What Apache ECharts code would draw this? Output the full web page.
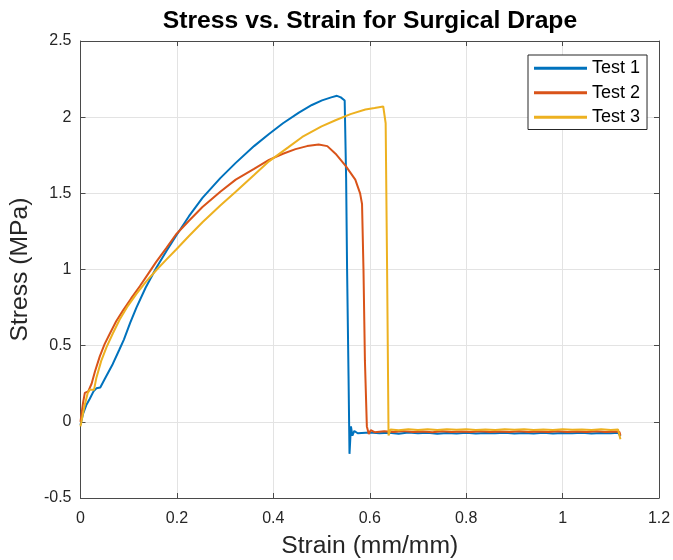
<!DOCTYPE html>
<html>
<head>
<meta charset="utf-8">
<script src="https://cdn.jsdelivr.net/npm/echarts@6/dist/echarts.min.js"></script>
<style>
html,body{margin:0;padding:0;background:#fff;}
#chart{width:673px;height:560px;}
</style>
</head>
<body>
<div id="chart"></div>
<script>
var titleText = 'Stress vs. Strain for Surgical Drape';
var xLabel = 'Strain (mm/mm)';
var yLabel = 'Stress (MPa)';
var seriesNames = ['Test 1', 'Test 2', 'Test 3'];
var seriesColors = ['#0072BD', '#D95319', '#EDB120'];

var test1 = [
  [0,-0.02],[0.005,0.05],[0.012,0.11],[0.019,0.15],[0.027,0.2],[0.033,0.22],[0.041,0.225],
  [0.05,0.28],[0.067,0.38],[0.08,0.47],[0.09,0.54],[0.103,0.65],[0.116,0.75],[0.135,0.88],[0.157,1.01],[0.178,1.12],
  [0.198,1.22],[0.225,1.35],[0.253,1.47],[0.29,1.6],[0.322,1.70],[0.36,1.81],[0.391,1.89],
  [0.42,1.96],[0.453,2.03],[0.48,2.08],[0.501,2.11],[0.52,2.13],[0.532,2.14],[0.540,2.13],
  [0.548,2.11],[0.551,1.6],[0.553,1.0],[0.556,0.3],[0.558,-0.21],[0.561,-0.03],[0.564,-0.09],
  [0.568,-0.06],[0.575,-0.075],[0.6,-0.07],[0.62,-0.075],[0.64,-0.072],[0.66,-0.078],[0.68,-0.07],
  [0.7,-0.075],[0.72,-0.072],[0.74,-0.078],[0.76,-0.073],[0.78,-0.076],[0.8,-0.071],[0.82,-0.077],
  [0.84,-0.073],[0.86,-0.075],[0.88,-0.071],[0.9,-0.077],[0.92,-0.073],[0.94,-0.076],[0.96,-0.072],
  [0.98,-0.077],[1.0,-0.073],[1.02,-0.075],[1.04,-0.071],[1.06,-0.077],[1.08,-0.073],[1.1,-0.075],
  [1.115,-0.072],[1.12,-0.095]
];
var test2 = [
  [0,0],[0.005,0.12],[0.009,0.19],[0.016,0.2],[0.023,0.25],[0.03,0.33],[0.04,0.43],[0.05,0.51],[0.061,0.58],[0.074,0.66],[0.088,0.73],
  [0.105,0.81],[0.123,0.89],[0.14,0.97],[0.157,1.05],[0.178,1.14],[0.198,1.23],[0.225,1.32],[0.253,1.41],[0.29,1.51],[0.322,1.59],
  [0.36,1.66],[0.391,1.72],[0.42,1.76],[0.446,1.79],[0.47,1.81],[0.494,1.82],[0.512,1.81],
  [0.529,1.76],[0.55,1.68],[0.57,1.59],[0.58,1.5],[0.584,1.43],[0.587,1.0],[0.59,0.4],
  [0.594,-0.03],[0.598,-0.08],[0.602,-0.055],[0.61,-0.068],[0.63,-0.062],[0.65,-0.067],[0.67,-0.061],
  [0.69,-0.066],[0.71,-0.063],[0.73,-0.068],[0.75,-0.062],[0.77,-0.066],[0.79,-0.063],[0.81,-0.067],
  [0.83,-0.062],[0.85,-0.066],[0.87,-0.063],[0.89,-0.067],[0.91,-0.062],[0.93,-0.066],[0.95,-0.064],
  [0.97,-0.067],[0.99,-0.062],[1.01,-0.066],[1.03,-0.063],[1.05,-0.067],[1.07,-0.062],[1.09,-0.066],
  [1.11,-0.064],[1.118,-0.066],[1.12,-0.09]
];
var test3 = [
  [0,-0.03],[0.008,0.1],[0.015,0.19],[0.019,0.21],[0.028,0.21],[0.033,0.29],[0.043,0.4],[0.054,0.49],[0.067,0.58],
  [0.081,0.67],[0.098,0.76],[0.116,0.84],[0.136,0.92],[0.157,0.995],[0.178,1.065],[0.198,1.13],[0.225,1.22],[0.253,1.31],[0.29,1.42],
  [0.322,1.51],[0.36,1.62],[0.391,1.71],[0.43,1.80],[0.46,1.87],[0.5,1.94],[0.529,1.98],
  [0.56,2.02],[0.591,2.05],[0.61,2.06],[0.628,2.07],[0.633,1.96],[0.636,1.0],[0.639,-0.09],
  [0.643,-0.05],[0.66,-0.055],[0.68,-0.048],[0.7,-0.053],[0.72,-0.049],[0.74,-0.054],[0.76,-0.048],
  [0.78,-0.052],[0.8,-0.049],[0.82,-0.054],[0.84,-0.05],[0.86,-0.053],[0.88,-0.048],[0.9,-0.052],
  [0.92,-0.049],[0.94,-0.054],[0.96,-0.05],[0.98,-0.053],[1.0,-0.048],[1.02,-0.052],[1.04,-0.05],
  [1.06,-0.054],[1.08,-0.049],[1.1,-0.053],[1.115,-0.05],[1.12,-0.115]
];

var axisColor = '#4a4a4a';
var gridColor = '#e3e3e3';
var labelColor = '#262626';
var fontFam = 'Liberation Sans, Arial, Helvetica, sans-serif';

var chart = echarts.init(document.getElementById('chart'), null, {renderer: 'canvas'});
var allData = [test1, test2, test3];
var series = allData.map(function (d, i) {
  return {
    name: seriesNames[i],
    type: 'line',
    data: d,
    showSymbol: false,
    symbol: 'none',
    lineStyle: {color: seriesColors[i], width: 2},
    itemStyle: {color: seriesColors[i]},
    animation: false,
    z: 3 + i
  };
});

var option = {
  backgroundColor: '#fff',
  animation: false,
  title: {
    text: titleText,
    left: 365,
    textAlign: 'center',
    top: 4,
    textStyle: {fontFamily: fontFam, fontWeight: 'bold', fontSize: 24.7, color: '#000'}
  },
  legend: {
    data: seriesNames,
    orient: 'vertical',
    left: 528,
    top: 55,
    icon: 'rect',
    itemWidth: 53,
    itemHeight: 3,
    itemGap: 6,
    padding: [4, 7, 3, 6],
    backgroundColor: '#fff',
    borderColor: '#262626',
    borderWidth: 1,
    borderRadius: 0,
    textStyle: {fontFamily: fontFam, fontSize: 18, color: '#000', lineHeight: 18.5, padding: [0, 0, 0, 0]}
  },
  grid: {left: 80.5, right: 14, top: 41, bottom: 62, show: false, containLabel: false, outerBoundsMode: 'none'},
  xAxis: [{
    type: 'value',
    min: 0, max: 1.2, interval: 0.2,
    position: 'bottom',
    name: xLabel,
    nameLocation: 'middle',
    nameGap: 36,
    nameTextStyle: {fontFamily: fontFam, fontSize: 24.7, color: labelColor},
    axisLine: {show: true, onZero: false, lineStyle: {color: axisColor, width: 1}},
    axisTick: {show: true, inside: true, length: 5, lineStyle: {color: axisColor}},
    axisLabel: {fontFamily: fontFam, fontSize: 16, color: labelColor, margin: 13},
    splitLine: {show: true, lineStyle: {color: gridColor, width: 1}}
  }, {
    type: 'value',
    min: 0, max: 1.2, interval: 0.2,
    position: 'top',
    axisLine: {show: true, onZero: false, lineStyle: {color: axisColor, width: 1}},
    axisTick: {show: true, inside: true, length: 5, lineStyle: {color: axisColor}},
    axisLabel: {show: false},
    splitLine: {show: false}
  }],
  yAxis: [{
    type: 'value',
    min: -0.5, max: 2.5, interval: 0.5,
    position: 'left',
    name: yLabel,
    nameLocation: 'middle',
    nameGap: 43,
    nameTextStyle: {fontFamily: fontFam, fontSize: 24.7, color: labelColor},
    axisLine: {show: true, onZero: false, lineStyle: {color: axisColor, width: 1}},
    axisTick: {show: true, inside: true, length: 5, lineStyle: {color: axisColor}},
    axisLabel: {fontFamily: fontFam, fontSize: 16, color: labelColor, margin: 9},
    splitLine: {show: true, lineStyle: {color: gridColor, width: 1}}
  }, {
    type: 'value',
    min: -0.5, max: 2.5, interval: 0.5,
    position: 'right',
    axisLine: {show: true, onZero: false, lineStyle: {color: axisColor, width: 1}},
    axisTick: {show: true, inside: true, length: 5, lineStyle: {color: axisColor}},
    axisLabel: {show: false},
    splitLine: {show: false}
  }],
  series: series
};
chart.setOption(option);
</script>
</body>
</html>
